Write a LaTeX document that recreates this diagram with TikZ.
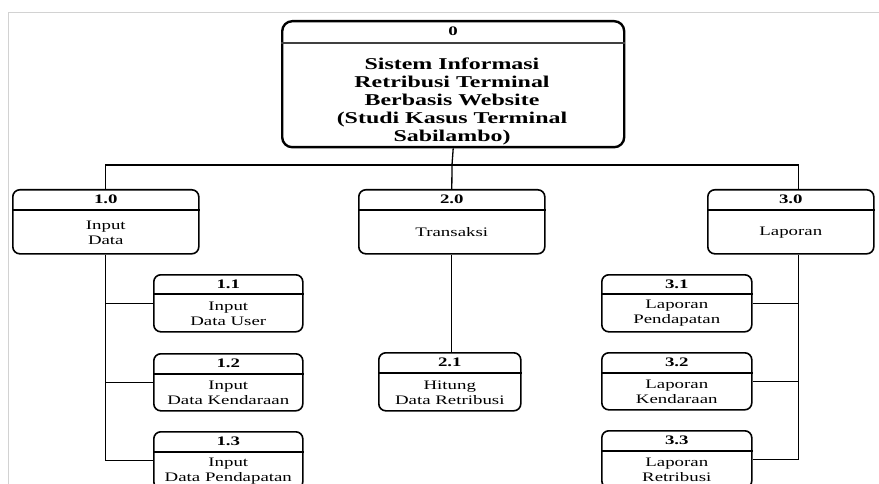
\documentclass[tikz,border=0pt]{standalone}
\usepackage{fontspec}
\setmainfont{Liberation Serif}[FakeStretch=1.45]
\usetikzlibrary{calc}
\newcommand{\dfdbox}[8]{%
  \node[box, minimum width=#4pt, minimum height=#5pt] (#1) at (#2,#3) {};
  \draw[hline] ($(#1.north west)+(0,#6)$) -- ($(#1.north east)+(0,#6)$);
  \node[num] (#1n) at ($(#1.north)+(0,{#6/2})$) {#7};
  \node[lbl] (#1t) at ($(#1.north)+(0,{(#6+#5)/2+1})$) {#8};
}
\begin{document}
\begin{tikzpicture}[x=1pt,y=-1pt,
  box/.style={draw, line width=1.6pt, rounded corners=7pt, anchor=north west, inner sep=0pt},
  hline/.style={line width=1.5pt},
  conn/.style={line width=1.3pt},
  num/.style={font=\fontsize{13}{15}\selectfont\bfseries, inner sep=0pt},
  lbl/.style={font=\fontsize{13}{15}\selectfont, align=center, inner sep=0pt},
  roottext/.style={font=\fontsize{16.5}{18}\selectfont\bfseries, align=center, inner sep=0pt},
]
\useasboundingbox (0,0) rectangle (879,484);
\fill[white] (0,0) rectangle (879,484);
\clip (0,0) rectangle (879,484);
\draw[gray!35, line width=1pt] (8.5,484) -- (8.5,13) -- (879,13);

% root
\node[box, line width=2.4pt, rounded corners=10pt, minimum width=342pt, minimum height=126pt] (r) at (281,20) {};
\draw[hline, line width=1.8pt, black!75] ($(r.north west)+(0,23)$) -- ($(r.north east)+(0,23)$);
\node[num] (rn) at ($(r.north)+(0,11.5)$) {0};
\node[roottext] (rt) at (452,101.5) {Sistem Informasi\\Retribusi Terminal\\Berbasis Website\\(Studi Kasus Terminal\\Sabilambo)};

% level 1
\dfdbox{b1}{12}{189}{186}{64}{21}{1.0}{Input\\Data}
\dfdbox{b2}{358}{189}{186}{64}{21}{2.0}{Transaksi}
\dfdbox{b3}{707}{189}{166}{64}{21}{3.0}{Laporan}

% level 2
\dfdbox{s11}{153}{274}{149}{57}{20}{1.1}{Input\\Data User}
\dfdbox{s12}{153}{353}{149}{57}{21}{1.2}{Input\\Data Kendaraan}
\dfdbox{s13}{153}{431}{149}{57}{21}{1.3}{Input\\Data Pendapatan}
\dfdbox{s21}{378}{352}{142}{58}{21}{2.1}{Hitung\\Data Retribusi}
\dfdbox{s31}{601}{274}{150}{57}{20}{3.1}{Laporan\\Pendapatan}
\dfdbox{s32}{601}{352}{150}{57}{21}{3.2}{Laporan\\Kendaraan}
\dfdbox{s33}{601}{430}{150}{57}{21}{3.3}{Laporan\\Retribusi}

% connectors
\coordinate (bus) at (452,165);
\coordinate (v3) at ([xshift=8pt]b3.south);
\draw[conn] (r.south) -- (bus);
\draw[conn] (b1.north) |- (bus) -| ([xshift=8pt]b3.north);
\draw[conn] (bus) -- (b2.north);
\draw[conn] (b1.south) |- (s13.west);
\draw[conn] (s11.west) -- (s11.west -| b1.south);
\draw[conn] (s12.west) -- (s12.west -| b1.south);
\draw[conn] (b2.south) -- (b2.south |- s21.north);
\draw[conn] (v3) |- (s33.east);
\draw[conn] (s31.east) -- (s31.east -| v3);
\draw[conn] (s32.east) -- (s32.east -| v3);
\end{tikzpicture}
\end{document}
